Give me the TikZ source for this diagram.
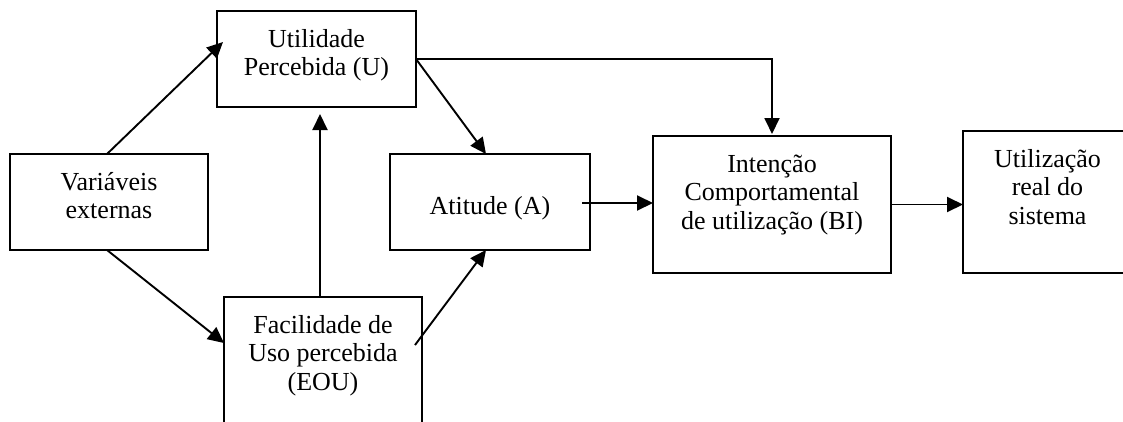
\documentclass[tikz,border=0pt]{standalone}
\usepackage{fontspec}
\setmainfont{Liberation Serif}
\usetikzlibrary{arrows.meta,calc}
% box content: width, height, height of first line (baseline offset), text
\newcommand\bxt[4]{\parbox[t][#2][t]{#1}{\centering\rule{0pt}{#3}#4}}
\begin{document}
\begin{tikzpicture}[x=1pt,y=-1pt,
  box/.style={draw=black,line width=1.7pt,inner sep=0pt,outer sep=0pt,
    anchor=north west,font=\fontsize{26}{28.5}\selectfont},
  openbox/.style={box,draw=none},
  link/.style={line width=1.9pt,-{Triangle[length=16pt,width=15pt]}}]
\clip (0,0) rectangle (1123,421);
\fill[white] (0,0) rectangle (1123,421);

% boxes
\node[box] (U) at (217,11) {\bxt{199pt}{96pt}{36pt}{Utilidade\\Percebida (U)}};
\node[box] (V) at (10,154) {\bxt{198pt}{96pt}{36pt}{Variáveis\\externas}};
\node[box] (A) at (390,154) {\bxt{200pt}{96pt}{60pt}{Atitude (A)}};
\node[openbox] (E) at (224,297) {\bxt{198pt}{134pt}{36pt}{Facilidade de\\Uso percebida\\(EOU)}};
\node[box] (BI) at (653,136) {\bxt{238pt}{137pt}{36pt}{Intenção\\Comportamental\\de utilização (BI)}};
\node[openbox] (R) at (963,131) {\bxt{169pt}{142pt}{36pt}{Utilização\\real do\\sistema}};

% sides of the boxes that run off the page
\draw[line width=1.7pt] (E.south west) -- (E.north west) -- (E.north east) -- (E.south east);
\draw[line width=1.7pt] (R.north east) -- (R.north west) -- (R.south west) -- (R.south east);

% connectors
\draw[link] ($(V.north)+(-2,0)$) -- ($(U.west)+(6,-17)$);
\draw[link] ($(V.south)+(-2,0)$) -- ($(E.north west)+(0,46)$);
\coordinate (eu) at ($(E.north)+(-3,0)$);
\draw[link] (eu) -- ($(eu |- U.south)+(0,7)$);
\draw[link] (U.east) -- ($(A.north)+(-4,0)$);
\draw[link] ($(E.north east)+(-7,48)$) -- ($(A.south)+(-4,0)$);
\draw[link] (U.east) -| ($(BI.north)+(0,-2)$);
\coordinate (ab) at ($(A.east)+(-8,1)$);
\draw[link] (ab) -- (ab -| BI.west);
\draw[link] (BI.east) -- (BI.east -| R.west);
\end{tikzpicture}
\end{document}
